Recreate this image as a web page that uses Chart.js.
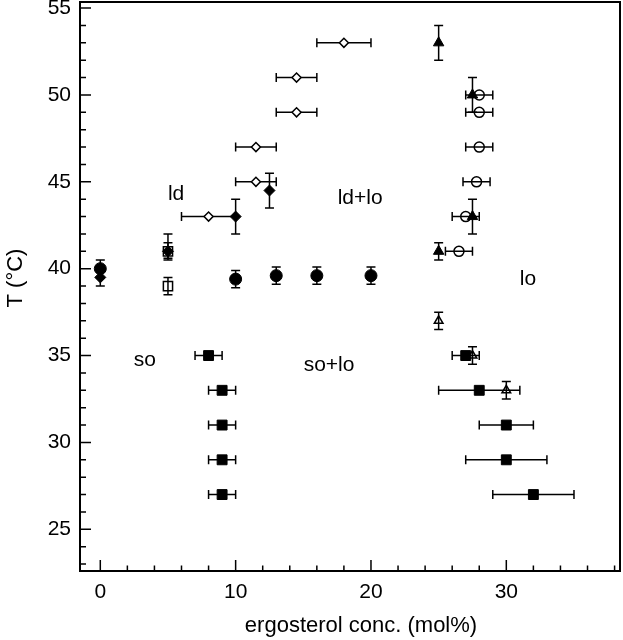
<!DOCTYPE html>
<html>
<head>
<meta charset="utf-8">
<script src="https://cdn.jsdelivr.net/npm/chart.js@4.4.1/dist/chart.umd.min.js"></script>
<style>
  body { margin: 0; background: #fff; }
  canvas { display: block; }
</style>
</head>
<body>
<canvas id="chart" width="623" height="640"></canvas>
<script>
// filled circles (y errors)
const circleX = [0, 10, 13, 16, 20];
const circleY = [40, 39.4, 39.6, 39.6, 39.6];
const circleYErr = [0.5, 0.5, 0.5, 0.5, 0.5];

// filled diamonds (y errors, [down, up])
const diamondX = [0, 5, 10, 12.5];
const diamondY = [39.5, 41, 43, 44.5];
const diamondYErr = [0.5, [0.4, 1], 1, 1];

// open squares (y errors)
const openSquareX = [5, 5];
const openSquareY = [41, 39];
const openSquareYErr = [0.5, 0.5];

// open diamonds (x errors)
const openDiamondX = [8, 11.5, 11.5, 14.5, 14.5, 18];
const openDiamondY = [43, 45, 47, 49, 51, 53];
const openDiamondXErr = [2, 1.5, 1.5, 1.5, 1.5, 2];

// filled triangles (y errors)
const triangleX = [25, 27.5, 27.5, 25];
const triangleY = [53, 50, 43, 41];
const triangleYErr = [1, 1, 1, 0.5];

// open circles (x errors)
const openCircleX = [28, 28, 28, 27.8, 27, 26.5];
const openCircleY = [50, 49, 47, 45, 43, 41];
const openCircleXErr = [1, 1, 1, 1, 1, 1];

// open triangles (y errors)
const openTriangleX = [25, 27.5, 30];
const openTriangleY = [37, 35, 33];
const openTriangleYErr = [0.5, 0.5, 0.5];

// filled squares (x errors)
const squareX = [8, 9, 9, 9, 9, 27, 28, 30, 30, 32];
const squareY = [35, 33, 31, 29, 27, 35, 33, 31, 29, 27];
const squareXErr = [1, 1, 1, 1, 1, 1, 3, 2, 3, 3];

// phase region labels
const regionText = ['ld', 'ld+lo', 'lo', 'so', 'so+lo'];
const regionX = [5.6, 19.2, 31.6, 3.3, 16.9];
const regionY = [44.3, 44.05, 39.4, 34.75, 34.45];

const xTicks = [0, 10, 20, 30];
const yTicks = [25, 30, 35, 40, 45, 50, 55];
const xTitle = 'ergosterol conc. (mol%)';
const yTitle = 'T (°C)';

const FONT = '"Liberation Sans", Arial, sans-serif';

function pts(xs, ys) {
    return xs.map((x, i) => ({x: x, y: ys[i]}));
}

function errPair(e) {
    return Array.isArray(e) ? e : [e, e];
}

const errorBars = {
    id: 'errorBars',
    beforeDatasetsDraw(chart) {
        const ctx = chart.ctx;
        const xs = chart.scales.x, ys = chart.scales.y;
        const cap = 4.5;
        ctx.save();
        ctx.strokeStyle = '#000';
        ctx.lineWidth = 1.5;
        chart.data.datasets.forEach(ds => {
            ds.data.forEach((p, i) => {
                const px = xs.getPixelForValue(p.x);
                const py = ys.getPixelForValue(p.y);
                ctx.beginPath();
                if (ds.xerr) {
                    const e = errPair(ds.xerr[i]);
                    const x1 = xs.getPixelForValue(p.x - e[0]);
                    const x2 = xs.getPixelForValue(p.x + e[1]);
                    ctx.moveTo(x1, py); ctx.lineTo(x2, py);
                    ctx.moveTo(x1, py - cap); ctx.lineTo(x1, py + cap);
                    ctx.moveTo(x2, py - cap); ctx.lineTo(x2, py + cap);
                }
                if (ds.yerr) {
                    const e = errPair(ds.yerr[i]);
                    const y1 = ys.getPixelForValue(p.y - e[0]);
                    const y2 = ys.getPixelForValue(p.y + e[1]);
                    ctx.moveTo(px, y1); ctx.lineTo(px, y2);
                    ctx.moveTo(px - cap, y1); ctx.lineTo(px + cap, y1);
                    ctx.moveTo(px - cap, y2); ctx.lineTo(px + cap, y2);
                }
                ctx.stroke();
            });
        });
        ctx.restore();
    }
};

// frame, inward ticks, axis titles and phase labels
const frame = {
    id: 'frame',
    afterDraw(chart) {
        const ctx = chart.ctx;
        const a = chart.chartArea;
        const xs = chart.scales.x, ys = chart.scales.y;
        ctx.save();
        ctx.strokeStyle = '#000';
        ctx.lineWidth = 1.5;
        ctx.beginPath();
        for (let v = Math.ceil(xs.min / 2) * 2; v <= xs.max; v += 2) {
            const px = xs.getPixelForValue(v);
            const len = v % 10 === 0 ? 11 : 5.5;
            ctx.moveTo(px, a.bottom); ctx.lineTo(px, a.bottom - len);
        }
        for (let v = Math.ceil(ys.min); v <= ys.max; v += 1) {
            const py = ys.getPixelForValue(v);
            const len = v % 5 === 0 ? 11 : 6;
            ctx.moveTo(a.left, py); ctx.lineTo(a.left + len, py);
        }
        ctx.stroke();
        ctx.lineWidth = 2;
        ctx.strokeRect(a.left, a.top, a.right - a.left, a.bottom - a.top);

        ctx.fillStyle = '#000';
        ctx.font = '21px ' + FONT;
        ctx.textAlign = 'center';
        ctx.textBaseline = 'middle';
        regionText.forEach((t, i) => {
            ctx.fillText(t, xs.getPixelForValue(regionX[i]), ys.getPixelForValue(regionY[i]));
        });

        ctx.font = '22px ' + FONT;
        ctx.fillText(xTitle, 361, 626);
        ctx.translate(16, 278);
        ctx.rotate(-Math.PI / 2);
        ctx.fillText(yTitle, 0, 0);
        ctx.restore();
    }
};

const openFill = 'rgba(0,0,0,0)';

const config = {
    type: 'scatter',
    data: {
        datasets: [
            {data: pts(circleX, circleY), yerr: circleYErr, pointStyle: 'circle', pointRadius: 6,
             backgroundColor: '#000', borderColor: '#000', borderWidth: 1},
            {data: pts(diamondX, diamondY), yerr: diamondYErr, pointStyle: 'rectRot', pointRadius: 5.5,
             backgroundColor: '#000', borderColor: '#000', borderWidth: 1},
            {data: pts(openSquareX, openSquareY), yerr: openSquareYErr, pointStyle: 'rect', pointRadius: 6.5,
             backgroundColor: openFill, borderColor: '#000', borderWidth: 1.5},
            {data: pts(openDiamondX, openDiamondY), xerr: openDiamondXErr, pointStyle: 'rectRot', pointRadius: 4.5,
             backgroundColor: '#fff', borderColor: '#000', borderWidth: 1.5},
            {data: pts(triangleX, triangleY), yerr: triangleYErr, pointStyle: 'triangle', pointRadius: 6,
             backgroundColor: '#000', borderColor: '#000', borderWidth: 1},
            {data: pts(openCircleX, openCircleY), xerr: openCircleXErr, pointStyle: 'circle', pointRadius: 5,
             backgroundColor: openFill, borderColor: '#000', borderWidth: 1.5},
            {data: pts(openTriangleX, openTriangleY), yerr: openTriangleYErr, pointStyle: 'triangle', pointRadius: 5,
             backgroundColor: openFill, borderColor: '#000', borderWidth: 1.5},
            {data: pts(squareX, squareY), xerr: squareXErr, pointStyle: 'rect', pointRadius: 7,
             backgroundColor: '#000', borderColor: '#000', borderWidth: 1}
        ]
    },
    options: {
        responsive: false,
        animation: false,
        devicePixelRatio: 1,
        layout: {autoPadding: false, padding: {top: 2, right: 3, left: 0, bottom: 0}},
        plugins: {
            legend: {display: false},
            tooltip: {enabled: false}
        },
        scales: {
            x: {
                type: 'linear',
                min: -1.5,
                max: 38.4,
                afterBuildTicks: s => { s.ticks = xTicks.map(v => ({value: v})); },
                afterFit: s => { s.height = 69; s.paddingLeft = 0; s.paddingRight = 0; },
                grid: {display: false, drawTicks: false},
                border: {display: false},
                ticks: {color: '#000', padding: 9, maxRotation: 0,
                        font: {family: FONT, size: 21}}
            },
            y: {
                type: 'linear',
                min: 22.6,
                max: 55.35,
                afterBuildTicks: s => { s.ticks = yTicks.map(v => ({value: v})); },
                afterFit: s => { s.width = 80; s.paddingTop = 0; s.paddingBottom = 0; },
                grid: {display: false, drawTicks: false},
                border: {display: false},
                ticks: {color: '#000', padding: 9,
                        font: {family: FONT, size: 21}}
            }
        }
    },
    plugins: [errorBars, frame]
};

const myChart = new Chart(
    document.getElementById('chart'),
    config
);
</script>
</body>
</html>
